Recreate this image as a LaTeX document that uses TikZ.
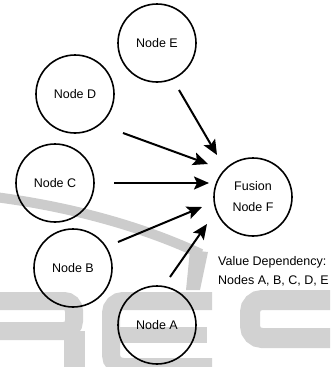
\documentclass[tikz,border=0pt]{standalone}
\usepackage{fontspec}
\setmainfont{Liberation Sans}
\usetikzlibrary{arrows.meta,calc}
\begin{document}
\begin{tikzpicture}[x=1pt,y=-1pt,
  nd/.style={draw=black,line width=1.6pt,circle,minimum size=78pt,inner sep=0pt,
    font=\fontsize{12.5}{21}\selectfont,align=center},
  arr/.style={line width=2pt,-{Stealth[length=15pt,width=13pt,inset=3pt]}},
  wm/.style={draw=gray!35,line cap=butt},
  lbl/.style={font=\fontsize{12.5}{19}\selectfont,align=left,inner sep=0pt,anchor=west}]
\useasboundingbox (0,0) rectangle (330,367);
% watermark
\begin{scope}
\clip (0,0) rectangle (330,367);
\draw[draw=gray!40,line width=10pt] (-5,197) .. controls (80,208) and (150,230) .. (201,254);
\fill[gray!40] (190,250) -- (208,252) -- (200,290) -- (186,290) -- cycle;
\draw[wm,line width=18pt,rounded corners=10pt] (-10,301) -- (74,301) -- (74,331) -- (-10,331);
\fill[gray!35] (64,331) rectangle (85,370);
\draw[wm,line width=18pt,rounded corners=12pt] (212,301) -- (111,301) -- (111,367) -- (212,367);
\draw[wm,line width=16pt] (111,335) -- (207,335);
\draw[wm,line width=20pt,rounded corners=12pt] (340,300) -- (250,300) -- (250,338) -- (340,338);
\end{scope}
% nodes
\node[nd] (E) at (157,43) {Node E};
\node[nd] (D) at (75,94) {Node D};
\node[nd] (C) at (55,183) {Node C};
\node[nd] (B) at (73,268) {Node B};
\node[nd] (A) at (157,325) {Node A};
\node[nd] (F) at (253,197) {Fusion\\Node F};
\node[lbl] (V) at (218,271) {Value Dependency:\\Nodes A, B, C, D, E};
% arrows
\draw[arr] ($(E)+(22,47)$) -- ($(F)+(-36,-42)$);
\draw[arr] ($(D)+(48,39)$) -- ($(F)+(-45,-33)$);
\draw[arr] ($(C)+(59,0)$) -- ($(F)+(-44,-14)$);
\draw[arr] ($(B)+(45,-26)$) -- ($(F)+(-51,10)$);
\draw[arr] ($(A)+(13,-48)$) -- ($(F)+(-46,27)$);
\end{tikzpicture}
\end{document}
